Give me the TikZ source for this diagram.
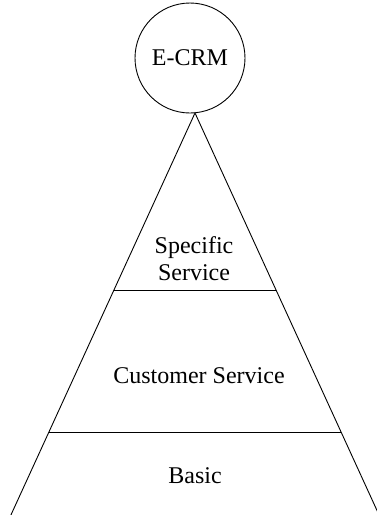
\documentclass[tikz,border=0pt]{standalone}
\usepackage{fontspec}
\setmainfont{Liberation Serif}
\usetikzlibrary{calc}
\begin{document}
\begin{tikzpicture}[x=1pt,y=-1pt,
  lbl/.style={font=\fontsize{24}{27}\selectfont, inner sep=0pt, anchor=base},
  edge/.style={line width=0.9pt, black}]
  \useasboundingbox (0,0) rectangle (377,515);
  \clip (0,0) rectangle (377,515);
  % apex and foot points of the pyramid
  \coordinate (apex) at (195,113);
  \coordinate (footL) at (10,517);
  \coordinate (footR) at (380,517);
  \draw[edge] (footL) -- (apex) -- (footR);
  % layer dividers
  \coordinate (l1a) at (114,290);
  \coordinate (l1b) at (276,290);
  \coordinate (l2a) at (49,432);
  \coordinate (l2b) at (341,432);
  \draw[edge] (l1a) -- (l1b);
  \draw[edge] (l2a) -- (l2b);
  % top circle
  \node[circle, draw, line width=0.9pt, minimum size=110pt, inner sep=0pt] (crm) at (190,58) {};
  \node[lbl] (crmtxt) at (190,65) {E-CRM};
  % layer labels
  \node[lbl] (spec1) at (194,253) {Specific};
  \node[lbl] (spec2) at (194,280) {Service};
  \node[lbl] (cust) at (199,383) {Customer Service};
  \node[lbl] (basic) at (195,483) {Basic};
\end{tikzpicture}
\end{document}
